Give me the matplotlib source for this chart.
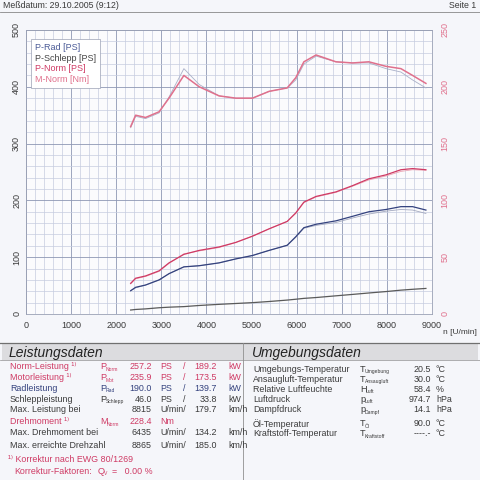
import matplotlib.pyplot as plt
from matplotlib.patches import Rectangle
from matplotlib.ticker import MultipleLocator

plt.rcParams['font.family'] = ['Liberation Sans', 'DejaVu Sans']

# measured curves (run 1 = thick, run 2 = thin overlay)
rpm = [2320, 2430, 2650, 2950, 3170, 3500, 3840, 4280, 4650, 5020, 5390,
       5790, 5980, 6160, 6430, 6870, 7240, 7600, 7980, 8310, 8570, 8865]
m_norm = [165, 175, 173, 178, 190, 210, 200, 192, 190, 190, 196,
          199, 208, 222, 228, 222, 221, 222, 218, 216, 210, 203]
m_norm2 = [164, 174, 172, 177, 191, 216, 202, 192, 190, 190, 196,
           199, 206, 220, 227, 222, 221, 221, 216, 213, 206, 199]
p_norm = [54, 63, 67, 76, 90, 105, 112, 118, 126, 137, 150,
          163, 178, 197, 207, 215, 226, 238, 245, 254, 256, 254]
p_norm2 = [53, 62, 66, 75, 89, 106, 111, 117, 126, 137, 150,
           163, 177, 196, 206, 214, 225, 236, 243, 251, 254, 253]
p_rad = [41, 47, 51, 60, 71, 83, 85, 90, 97, 103, 112,
         121, 136, 152, 158, 164, 172, 180, 184, 189, 189, 183]
p_rad2 = [41, 46, 51, 60, 71, 83, 85, 90, 97, 103, 112,
          121, 135, 151, 156, 161, 169, 176, 181, 184, 183, 177]
p_schlepp = [7, 8, 9, 11, 12, 13, 15, 17, 18.5, 20, 22,
             24.5, 26, 27.5, 29, 32, 34.5, 37, 39.5, 42, 43.5, 45]

legend_labels = ["P-Rad [PS]", "P-Schlepp [PS]", "P-Norm [PS]", "M-Norm [Nm]"]

# colours
RED = '#cf3a64'
PINK = '#e0708c'
BLUE = '#34427e'
GRAY = '#5a5a5a'
TXT = '#3a3a3a'
GRID_MIN = '#c6cde0'
GRID_MAJ = '#8e97b4'

fig = plt.figure(figsize=(4.8, 4.8), dpi=100)
fig.patch.set_facecolor('#f5f6fa')

ax = fig.add_axes([26 / 480, 1 - 314 / 480, 406 / 480, 284 / 480])
ax.set_facecolor('#fbfbfd')
ax.set_xlim(0, 9000)
ax.set_ylim(0, 500)
ax.xaxis.set_major_locator(MultipleLocator(1000))
ax.xaxis.set_minor_locator(MultipleLocator(200))
ax.yaxis.set_major_locator(MultipleLocator(100))
ax.yaxis.set_minor_locator(MultipleLocator(20))
ax.grid(which='minor', color=GRID_MIN, lw=0.5)
ax.grid(which='major', color=GRID_MAJ, lw=0.6)
ax.set_axisbelow(True)
ax.tick_params(which='both', length=0, labelsize=6.5, colors=TXT)
ax.tick_params(axis='x', pad=5)
for lab in ax.get_yticklabels():
    lab.set_rotation(90)
    lab.set_va('center')
for s in ax.spines.values():
    s.set_color('#9aa0b4')
    s.set_linewidth(0.6)

ax2 = ax.twinx()
ax2.set_ylim(0, 250)
ax2.yaxis.set_major_locator(MultipleLocator(50))
ax2.tick_params(length=0, labelsize=6.5, colors=PINK, pad=6)
for lab in ax2.get_yticklabels():
    lab.set_rotation(90)
    lab.set_va('center')
for s in ax2.spines.values():
    s.set_visible(False)

# thin overlay run
ax.plot(rpm, p_rad2, color='#a4a9bf', lw=0.6)
ax.plot(rpm, p_norm2, color='#eba4b4', lw=0.6)
ax2.plot(rpm, m_norm2, color='#aab0c8', lw=0.6)

# main run
l_rad, = ax.plot(rpm, p_rad, color=BLUE, lw=0.9)
l_sch, = ax.plot(rpm, p_schlepp, color=GRAY, lw=0.9)
l_norm, = ax.plot(rpm, p_norm, color=RED, lw=0.9)
l_m, = ax2.plot(rpm, m_norm, color=PINK, lw=1.1)

leg = ax2.legend([l_rad, l_sch, l_norm, l_m], legend_labels,
                 loc='upper left', bbox_to_anchor=(0.0, 0.985), fontsize=6.5,
                 handlelength=0, handletextpad=0, borderpad=0.45,
                 labelspacing=0.2, fancybox=False, framealpha=1)
leg.get_frame().set_edgecolor('#9aa0b4')
leg.get_frame().set_linewidth(0.5)
for t, c in zip(leg.get_texts(), ['#4a5a96', '#444444', RED, PINK]):
    t.set_color(c)

fig.text(477 / 480, 1 - 333 / 480, "n [U/min]", fontsize=6, color=TXT,
         ha='right', va='center')

# header
fig.text(3 / 480, 1 - 5 / 480, "Meßdatum: 29.10.2005 (9:12)", fontsize=6.3,
         color=TXT, va='center')
fig.text(476 / 480, 1 - 5 / 480, "Seite 1", fontsize=6.3, color=TXT,
         ha='right', va='center')
fig.add_artist(plt.Line2D([0, 1], [1 - 12 / 480, 1 - 12 / 480],
                          color='#888888', lw=0.6))


def fy(y):
    return 1 - y / 480


def fx(x):
    return x / 480


# letter widths (px) so the subscript starts right after the letter
SUB_OFF = {"P": 5.3, "M": 6.6, "T": 5.0, "H": 6.0, "p": 5.0, "Q": 6.2}


def symbol(x, y, main, sub, color, fs=6.6):
    fig.text(fx(x), fy(y), main, fontsize=fs, color=color, va='center')
    fig.text(fx(x + SUB_OFF[main]), fy(y + 2.4), sub, fontsize=3.6,
             color=color, va='center')


# data panels
fig.add_artist(Rectangle((fx(2), fy(360)), fx(476), 17 / 480,
                         facecolor='#dcdcdf', edgecolor='none'))
fig.add_artist(plt.Line2D([0, 1], [fy(343), fy(343)], color='#707070', lw=0.9))
fig.add_artist(plt.Line2D([0, 1], [fy(360), fy(360)], color='#909090', lw=0.5))
fig.add_artist(plt.Line2D([fx(243), fx(243)], [fy(343), 0], color='#909090',
                          lw=0.6))
fig.text(fx(9), fy(352.5), "Leistungsdaten", fontsize=10, style='italic',
         color='#222222', va='center')
fig.text(fx(252), fy(352.5), "Umgebungsdaten", fontsize=10, style='italic',
         color='#222222', va='center')

rows_left = [
    (366.7, "Norm-Leistung ¹⁾", "P", "Norm", "257.2", "PS", "/", "189.2", "kW", RED),
    (377.7, "Motorleistung ¹⁾", "P", "Mot", "235.9", "PS", "/", "173.5", "kW", RED),
    (388.3, "Radleistung", "P", "Rad", "190.0", "PS", "/", "139.7", "kW", BLUE),
    (399.0, "Schleppleistung", "P", "Schlepp", "46.0", "PS", "/", "33.8", "kW", TXT),
    (409.3, "Max. Leistung bei", "", "", "8815", "U/min/", "", "179.7", "km/h", TXT),
    (421.7, "Drehmoment ¹⁾", "M", "Norm", "228.4", "Nm", "", "", "", RED),
    (432.7, "Max. Drehmoment bei", "", "", "6435", "U/min/", "", "134.2", "km/h", TXT),
    (446.0, "Max. erreichte Drehzahl", "", "", "8865", "U/min/", "", "185.0", "km/h", TXT),
]
fs = 6.4
for y, lab, sym, sub, v1, u1, sl, v2, u2, c in rows_left:
    fig.text(fx(10), fy(y), lab, fontsize=fs, color=c, va='center')
    if sym:
        symbol(100, y, sym, sub, c)
    fig.text(fx(152), fy(y), v1, fontsize=fs, color=c, va='center', ha='right')
    fig.text(fx(160), fy(y), u1, fontsize=fs, color=c, va='center')
    fig.text(fx(183), fy(y), sl, fontsize=fs, color=c, va='center')
    fig.text(fx(217), fy(y), v2, fontsize=fs, color=c, va='center', ha='right')
    fig.text(fx(228), fy(y), u2, fontsize=fs, color=c, va='center')

fig.text(fx(8), fy(459), "¹⁾ Korrektur nach EWG 80/1269", fontsize=fs,
         color=RED, va='center')
fig.text(fx(14), fy(471), "Korrektur-Faktoren:", fontsize=fs,
         color=RED, va='center')
symbol(98, 471, "Q", "V", RED)
fig.text(fx(112), fy(471), "=   0.00 %", fontsize=fs, color=RED, va='center')

rows_right = [
    (369, "Umgebungs-Temperatur", "T", "Umgebung", "20.5", "°C"),
    (379, "Ansaugluft-Temperatur", "T", "Ansaugluft", "30.0", "°C"),
    (389, "Relative Luftfeuchte", "H", "Luft", "58.4", "%"),
    (399, "Luftdruck", "p", "Luft", "974.7", "hPa"),
    (410, "Dampfdruck", "p", "Dampf", "14.1", "hPa"),
    (424, "Öl-Temperatur", "T", "Öl", "90.0", "°C"),
    (434, "Kraftstoff-Temperatur", "T", "Kraftstoff", "----.-", "°C"),
]
for y, lab, sym, sub, v, u in rows_right:
    fig.text(fx(253), fy(y), lab, fontsize=fs, color=TXT, va='center')
    symbol(360, y, sym, sub, TXT)
    fig.text(fx(431), fy(y), v, fontsize=fs, color=TXT, va='center', ha='right')
    fig.text(fx(436), fy(y), u, fontsize=fs, color=TXT, va='center')

fig.savefig("out.png", dpi=100, facecolor=fig.get_facecolor())
